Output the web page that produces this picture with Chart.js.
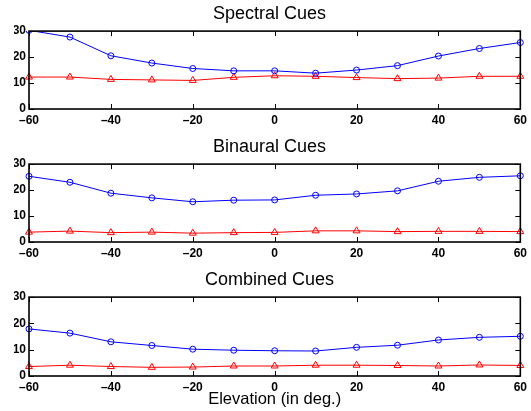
<!DOCTYPE html>
<html>
<head>
<meta charset="utf-8">
<script src="https://cdn.jsdelivr.net/npm/chart.js@4/dist/chart.umd.min.js"></script>
<style>
  body { margin: 0; background: #fff; }
  #wrap { position: relative; width: 531px; height: 411px; }
  .panel { position: absolute; left: 0; width: 531px; }
</style>
</head>
<body>
<div id="wrap">
  <div class="panel" style="top:0px"><canvas id="spectral" width="531" height="133"></canvas></div>
  <div class="panel" style="top:133px"><canvas id="binaural" width="531" height="133"></canvas></div>
  <div class="panel" style="top:266px"><canvas id="combined" width="531" height="145"></canvas></div>
</div>
<script>
// elevation angles (deg.) and errors for each cue type
let elevation = [-60, -50, -40, -30, -20, -10, 0, 10, 20, 30, 40, 50, 60];

let spectralBlue = [30.3, 27.7, 20.5, 17.7, 15.6, 14.7, 14.7, 13.8, 15.0, 16.7, 20.4, 23.3, 25.6];
let spectralRed = [12.3, 12.3, 11.4, 11.2, 11.0, 12.2, 12.8, 12.6, 12.1, 11.7, 11.9, 12.6, 12.6];

let binauralBlue = [25.3, 23.0, 18.8, 17.0, 15.5, 16.1, 16.2, 18.0, 18.5, 19.7, 23.4, 24.9, 25.5];
let binauralRed = [3.8, 4.2, 3.6, 3.8, 3.4, 3.6, 3.7, 4.3, 4.3, 4.0, 4.1, 4.1, 4.0];

let combinedBlue = [17.9, 16.3, 13.0, 11.6, 10.2, 9.8, 9.6, 9.5, 10.9, 11.7, 13.7, 14.7, 15.1];
let combinedRed = [3.6, 4.1, 3.6, 3.3, 3.4, 3.8, 3.8, 4.1, 4.1, 4.0, 3.8, 4.2, 4.0];

let xTicks = [-60, -40, -20, 0, 20, 40, 60];
let yTicks = [0, 10, 20, 30];

const tickFont = { family: "'Liberation Sans', Arial, sans-serif", size: 12, weight: "bold" };

function toPoints(values) {
  return values.map((v, i) => ({ x: elevation[i], y: v }));
}

function dashLabel(value) {
  return value < 0 ? "\u2013" + Math.abs(value) : "" + value;
}

// box around the axes with ticks pointing inwards on all four sides
function drawBox(chart) {
  const ctx = chart.ctx;
  const a = chart.chartArea;
  const xs = chart.scales.x;
  const ys = chart.scales.y;
  const len = 5;
  ctx.save();
  ctx.strokeStyle = "#000";
  ctx.lineWidth = 1;
  ctx.beginPath();
  for (let t of xTicks) {
    let px = Math.round(xs.getPixelForValue(t)) + 0.5;
    ctx.moveTo(px, a.bottom);
    ctx.lineTo(px, a.bottom - len);
    ctx.moveTo(px, a.top);
    ctx.lineTo(px, a.top + len);
  }
  for (let t of yTicks) {
    let py = Math.round(ys.getPixelForValue(t)) + 0.5;
    ctx.moveTo(a.left, py);
    ctx.lineTo(a.left + len, py);
    ctx.moveTo(a.right, py);
    ctx.lineTo(a.right - len, py);
  }
  ctx.stroke();
  ctx.lineWidth = 1.6;
  ctx.strokeRect(a.left, a.top, a.right - a.left, a.bottom - a.top);
  ctx.restore();
}

const boxPlugin = {
  id: "axesBox",
  afterDraw(chart) {
    drawBox(chart);
  },
};

function makePanel(id, title, blue, red, xHeight, showLabel) {
  return new Chart(document.getElementById(id), {
    type: "line",
    data: {
      datasets: [
        {
          data: toPoints(blue),
          borderColor: "rgb(0,0,255)",
          borderWidth: 1,
          pointStyle: "circle",
          pointRadius: 3,
          pointBorderWidth: 1,
          pointBorderColor: "rgb(0,0,255)",
          pointBackgroundColor: "rgba(0,0,0,0)",
          clip: { left: 6, top: 0, right: 6, bottom: 6 },
        },
        {
          data: toPoints(red),
          borderColor: "rgb(255,0,0)",
          borderWidth: 1,
          pointStyle: "triangle",
          pointRadius: 4,
          pointBorderWidth: 1,
          pointBorderColor: "rgb(255,0,0)",
          pointBackgroundColor: "rgba(0,0,0,0)",
          clip: false,
        },
      ],
    },
    options: {
      responsive: false,
      animation: false,
      // left padding nudges the title a little right of the canvas centre
      layout: { padding: { left: 14, right: 6, top: 0, bottom: 0 } },
      plugins: {
        legend: { display: false },
        tooltip: { enabled: false },
        title: {
          display: true,
          text: title,
          color: "#000",
          font: { family: "'Liberation Sans', Arial, sans-serif", size: 18, weight: "normal" },
          padding: { top: 3.5, bottom: 6 },
        },
      },
      scales: {
        x: {
          type: "linear",
          min: -60,
          max: 60,
          afterBuildTicks: (scale) => {
            scale.ticks = xTicks.map((v) => ({ value: v }));
          },
          afterFit: (scale) => {
            scale.height = xHeight;
          },
          grid: { display: false, drawTicks: false },
          border: { display: false },
          ticks: {
            color: "#000",
            font: tickFont,
            padding: 4,
            maxRotation: 0,
            callback: dashLabel,
          },
          title: {
            display: showLabel,
            text: "Elevation (in deg.)",
            color: "#000",
            font: { family: "'Liberation Sans', Arial, sans-serif", size: 16.5, weight: "normal" },
            padding: { top: 0, bottom: 2 },
          },
        },
        y: {
          min: 0,
          max: 30,
          afterBuildTicks: (scale) => {
            scale.ticks = yTicks.map((v) => ({ value: v }));
          },
          afterFit: (scale) => {
            scale.width = 15;
          },
          grid: { display: false, drawTicks: false },
          border: { display: false },
          ticks: {
            color: "#000",
            font: tickFont,
            padding: 3,
            callback: dashLabel,
          },
        },
      },
    },
    plugins: [boxPlugin],
  });
}

var spectralChart = makePanel("spectral", "Spectral Cues", spectralBlue, spectralRed, 24, false);
var binauralChart = makePanel("binaural", "Binaural Cues", binauralBlue, binauralRed, 24, false);
var combinedChart = makePanel("combined", "Combined Cues", combinedBlue, combinedRed, 35, true);
</script>
</body>
</html>
